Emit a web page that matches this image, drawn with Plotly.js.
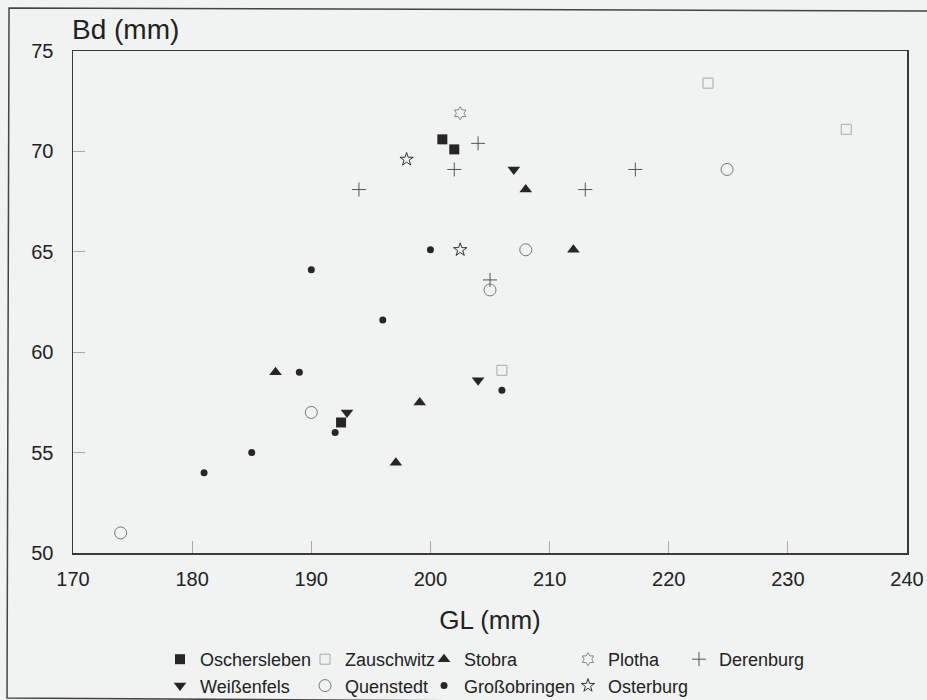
<!DOCTYPE html>
<html>
<head>
<meta charset="utf-8">
<script src="https://cdn.plot.ly/plotly-3.0.1.min.js"></script>
<style>
  html, body { margin: 0; padding: 0; background: #f1f2f2; }
  #chart { width: 927px; height: 700px; }
</style>
</head>
<body>
<div id="chart"></div>
<script>
// ---- data (GL mm, Bd mm) ----
const oscherslebenGL = [201, 202, 192.5];
const oscherslebenBd = [70.6, 70.1, 56.5];

const zauschwitzGL = [223.3, 234.9, 206];
const zauschwitzBd = [73.4, 71.1, 59.1];

const stobraGL = [208, 212, 187, 199.1, 197.1];
const stobraBd = [68.1, 65.1, 59.0, 57.5, 54.5];

const plothaGL = [202.5];
const plothaBd = [71.9];

const derenburgGL = [194, 202, 204, 217.2, 213, 205];
const derenburgBd = [68.1, 69.1, 70.4, 69.1, 68.1, 63.6];

const weissenfelsGL = [207, 193, 204];
const weissenfelsBd = [69.1, 57.0, 58.6];

const quenstedtGL = [224.9, 208, 205, 190, 174];
const quenstedtBd = [69.1, 65.1, 63.1, 57.0, 51.0];

const grossobringenGL = [190, 200, 196, 189, 192, 185, 181, 206];
const grossobringenBd = [64.1, 65.1, 61.6, 59.0, 56.0, 55.0, 54.0, 58.1];

const osterburgGL = [198, 202.5];
const osterburgBd = [69.6, 65.1];

const xTicks = [170, 180, 190, 200, 210, 220, 230, 240];
const yTicks = [50, 55, 60, 65, 70, 75];

// ---- traces ----
const dark = '#262626';
function tr(name, x, y, marker, legend) {
  return { type: 'scatter', mode: 'markers', name: name, x: x, y: y,
           marker: marker, legend: legend, cliponaxis: false };
}
const traces = [
  tr('Oschersleben', oscherslebenGL, oscherslebenBd,
     {symbol: 'square', size: 10, color: dark}, 'legend'),
  tr('Zauschwitz', zauschwitzGL, zauschwitzBd,
     {symbol: 'square-open', size: 10, color: '#a8a8a8', line: {width: 1}}, 'legend2'),
  tr('Stobra', stobraGL, stobraBd,
     {symbol: 'triangle-up', size: 11, color: dark}, 'legend3'),
  tr('Plotha', plothaGL, plothaBd,
     {symbol: 'hexagram-open', size: 10, color: '#888', line: {width: 1}}, 'legend4'),
  tr('Derenburg', derenburgGL, derenburgBd,
     {symbol: 'cross-thin-open', size: 10, color: '#555', line: {width: 1, color: '#555'}}, 'legend5'),
  tr('Weißenfels', weissenfelsGL, weissenfelsBd,
     {symbol: 'triangle-down', size: 11, color: dark}, 'legend'),
  tr('Quenstedt', quenstedtGL, quenstedtBd,
     {symbol: 'circle-open', size: 12, color: '#777', line: {width: 1}}, 'legend2'),
  tr('Großobringen', grossobringenGL, grossobringenBd,
     {symbol: 'circle', size: 7, color: dark}, 'legend3'),
  tr('Osterburg', osterburgGL, osterburgBd,
     {symbol: 'star-open', size: 10, color: '#333', line: {width: 1}}, 'legend4')
];

// ---- layout ----
const font = {family: '"Liberation Sans", Arial, sans-serif', color: '#222'};
function leg(x) {
  return { x: x, y: -0.1753, xanchor: 'left', yanchor: 'top', orientation: 'v',
           bgcolor: 'rgba(0,0,0,0)', borderwidth: 0,
           font: Object.assign({size: 18}, font) };
}
const layout = {
  width: 927, height: 700,
  paper_bgcolor: '#f1f2f2', plot_bgcolor: '#f1f2f2',
  margin: {l: 73, r: 20, t: 51, b: 147, pad: 0, autoexpand: false},
  font: font,
  showlegend: true,
  legend: leg(0.1043),
  legend2: leg(0.2782),
  legend3: leg(0.4209),
  legend4: leg(0.5935),
  legend5: leg(0.7266),
  xaxis: {
    range: [170, 240], tickvals: xTicks, ticktext: xTicks.map(String),
    showgrid: false, zeroline: false,
    showline: true, linecolor: '#3a3a3a', linewidth: 1.5, mirror: true,
    ticks: 'inside', ticklen: 12, tickcolor: '#aaa', tickwidth: 1,
    tickfont: Object.assign({size: 20}, font), ticklabelstandoff: 7,
    title: {text: 'GL (mm)', font: Object.assign({size: 26}, font), standoff: 22}
  },
  yaxis: {
    range: [50, 75], tickvals: yTicks, ticktext: yTicks.map(String),
    showgrid: false, zeroline: false,
    showline: true, linecolor: '#3a3a3a', linewidth: 1.5, mirror: true,
    ticks: 'inside', ticklen: 12, tickcolor: '#aaa', tickwidth: 1,
    tickfont: Object.assign({size: 20}, font), ticklabelstandoff: 14
  },
  annotations: [{
    text: 'Bd (mm)', xref: 'paper', yref: 'paper', x: -0.004, y: 1.0438,
    xanchor: 'left', yanchor: 'middle', showarrow: false,
    font: Object.assign({size: 28}, font)
  }],
  shapes: [{
    type: 'path', xref: 'paper', yref: 'paper',
    path: 'M 1.03 1.0797 L -0.0767 1.0857 L -0.0791 -0.2889 L 0.50 -0.2949',
    line: {color: '#444', width: 1.5}
  }]
};

Plotly.newPlot('chart', traces, layout, {displayModeBar: false, staticPlot: true});
</script>
</body>
</html>
